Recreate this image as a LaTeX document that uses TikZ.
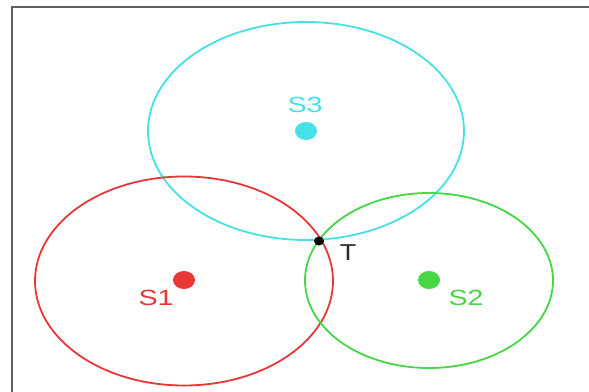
\documentclass[tikz,border=0pt]{standalone}
\usepackage{fontspec}
\setmainfont{Liberation Sans}
\usetikzlibrary{shapes.geometric}
\definecolor{cred}{RGB}{232,55,55}
\definecolor{ccyan}{RGB}{70,225,230}
\definecolor{cgreen}{RGB}{70,215,70}
\definecolor{cframe}{RGB}{95,95,95}
\definecolor{ctext}{RGB}{45,45,45}
\tikzset{
  ring/.style={line width=1.8pt},
  site/.style={ellipse, fill=#1, inner sep=0pt, minimum width=22pt, minimum height=18pt},
  lbl/.style={font=\fontsize{22}{22}\selectfont, inner sep=0pt, text=#1, xscale=1.3, transform shape},
}
\begin{document}
\begin{tikzpicture}[x=1pt,y=-1pt]
\useasboundingbox (0,0) rectangle (589,391);
\fill[white] (0,0) rectangle (589,391);
% frame
\coordinate (fa) at (11.5,400);
\coordinate (fb) at (11.5,6.5);
\coordinate (fc) at (600,6.5);
\draw[cframe, line width=2pt] (fa) -- (fb) -- (fc);
% circles
\draw[ring, ccyan] (306,131) ellipse [x radius=158, y radius=109];
\draw[ring, cred] (184,281) ellipse [x radius=149, y radius=104.5];
\draw[ring, cgreen] (429,280.5) ellipse [x radius=124, y radius=87.5];
% sites
\node[site=ccyan] (s3) at (306,131) {};
\node[site=cred] (s1) at (184,280) {};
\node[site=cgreen] (s2) at (429,280) {};
\node[site=black, minimum width=10pt, minimum height=9pt] (t) at (319,241) {};
% labels
\node[lbl=ccyan] (l3) at (305,105) {S3};
\node[lbl=cred] (l1) at (156,298) {S1};
\node[lbl=cgreen] (l2) at (466,298) {S2};
\node[lbl=ctext, font=\fontsize{23}{23}\selectfont, xscale=0.9] (lt) at (348,253) {T};
\end{tikzpicture}
\end{document}
